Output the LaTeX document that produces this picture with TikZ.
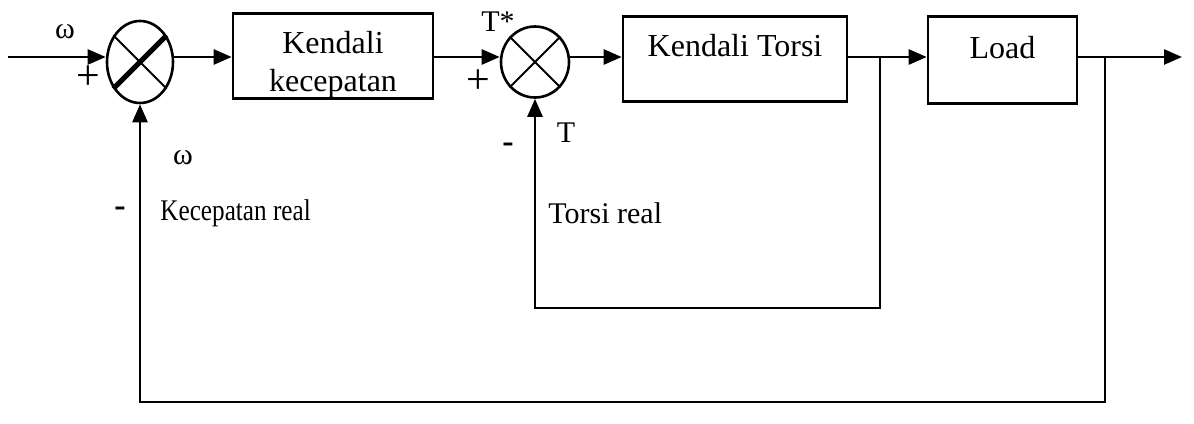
\documentclass[tikz,border=0pt]{standalone}
\usepackage{fontspec}
\setmainfont{Liberation Serif}
\usetikzlibrary{arrows.meta,shapes.geometric,calc}
\begin{document}
\begin{tikzpicture}[x=0.5pt,y=-0.5pt,
  wire/.style={line width=1.3pt},
  flow/.style={wire,-{Triangle[length=9pt,width=7.5pt]}},
  sumnode/.style={draw,ellipse,line width=1.3pt,inner sep=0pt},
  block/.style={draw,line width=1.3pt,inner xsep=0pt,inner ysep=0pt,
    font=\fontsize{16}{19}\selectfont},
  blocktext/.style={inner sep=0pt,align=center,font=\fontsize{16}{19}\selectfont},
  lbl/.style={font=\fontsize{15}{17}\selectfont,inner sep=0pt},
  sign/.style={font=\fontsize{21}{21}\selectfont,inner sep=0pt},
  minus/.style={font=\fontsize{17}{17}\selectfont\bfseries,inner sep=0pt}]
\useasboundingbox (0,0) rectangle (1194,423);

% summing junctions
\node[sumnode,minimum width=33pt,minimum height=41pt] (s1) at (140,62) {};
\draw[line width=0.9pt] (s1.135) -- (s1.-45);
\draw[line width=2.6pt] (s1.-135) -- (s1.45);
\node[sumnode,minimum width=34pt,minimum height=35.5pt] (s2) at (535,62) {};
\draw[line width=0.9pt] (s2.135) -- (s2.-45);
\draw[line width=0.9pt] (s2.-135) -- (s2.45);

% blocks
\node[block,minimum width=100pt,minimum height=42.5pt] (kc) at (333,56) {};
\node[blocktext] (kct) at (333,65) {Kendali\\kecepatan};
\node[block,anchor=north,minimum width=112pt,text height=20pt,text depth=22.5pt] (kt) at (735,15) {Kendali Torsi};
\node[block,anchor=north,minimum width=74.5pt,text height=21pt,text depth=22.5pt] (ld) at (1002.5,15) {Load};

% signal path
\coordinate (in) at (8,57);
\coordinate (out) at (1182,57);
\coordinate (b1) at (880,57);
\coordinate (b2) at (1105,57);
\coordinate (c1) at (880,308);
\coordinate (c2) at (535,308);
\coordinate (d1) at (1105,402);
\coordinate (d2) at (140,402);

\draw[flow] (in) -- (in -| s1.west);
\draw[flow] (in -| s1.east) -- (in -| kc.west);
\draw[flow] (in -| kc.east) -- (in -| s2.west);
\draw[flow] (in -| s2.east) -- (in -| kt.west);
\draw[flow] (in -| kt.east) -- (in -| ld.west);
\draw[flow] (in -| ld.east) -- (out);
\draw[flow] (b1) -- (c1) -- (c2) -- (s2.south);
\draw[flow] (b2) -- (d1) -- (d2) -- (s1.south);

% labels
\node[lbl] (w1) at (65,32) {ω};
\node[sign] (p1) at (88,78) {+};
\node[lbl] (w2) at (183,158) {ω};
\node[minus] (m1) at (120,212) {-};
\node[lbl,anchor=west] (kr) at (160,213) {\scalebox{0.84}[1]{Kecepatan real}};
\node[lbl] (ts) at (498,22) {T*};
\node[sign] (p2) at (478,82) {+};
\node[lbl] (tt) at (566,133) {T};
\node[minus] (m2) at (508,148) {-};
\node[lbl,anchor=west] (tr) at (548,213) {Torsi real};
\end{tikzpicture}
\end{document}
